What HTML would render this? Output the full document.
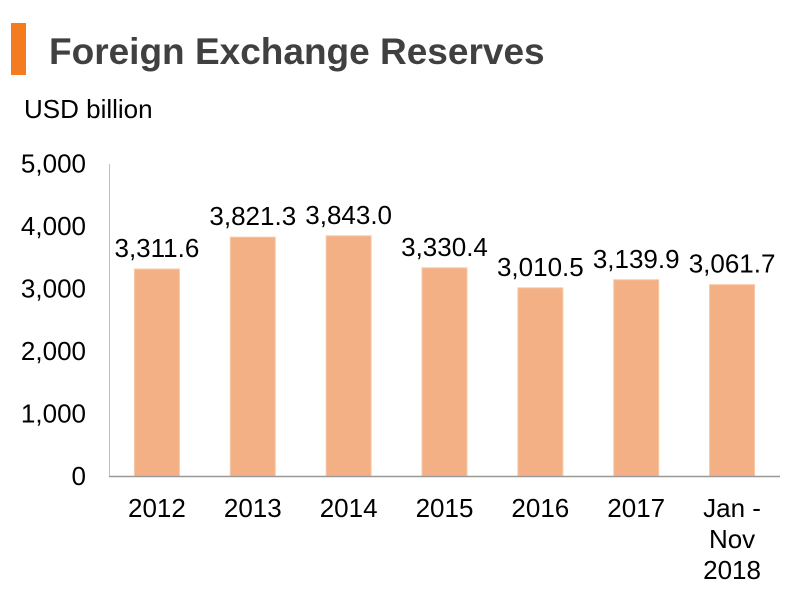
<!DOCTYPE html>
<html>
<head>
<meta charset="utf-8">
<style>
  html,body{margin:0;padding:0;background:#fff;}
  body{width:800px;height:606px;overflow:hidden;font-family:"Liberation Sans",Arial,sans-serif;}
</style>
</head>
<body>
<svg width="800" height="606" viewBox="0 0 800 606" xmlns="http://www.w3.org/2000/svg">
  <rect x="11" y="23" width="15" height="52" fill="#f47b20"/>
  <text x="49" y="64" font-size="37" font-weight="bold" fill="#404040" font-family="Liberation Sans, Arial, sans-serif">Foreign Exchange Reserves</text>
  <text x="24" y="118" font-size="26" fill="#000" font-family="Liberation Sans, Arial, sans-serif">USD billion</text>
  <g id="ticks"></g>
  <g id="bars"></g>
  <g id="labels"></g>
  <g id="cats"></g>
  <line x1="109.5" y1="164" x2="109.5" y2="476" stroke="#bfbfbf" stroke-width="1"/>
  <line x1="109" y1="476.5" x2="780" y2="476.5" stroke="#999" stroke-width="1.5"/>
</svg>
<script>
const categories = [["2012"],["2013"],["2014"],["2015"],["2016"],["2017"],["Jan -","Nov","2018"]];
const values = [3311.6, 3821.3, 3843.0, 3330.4, 3010.5, 3139.9, 3061.7];
const valueLabels = ["3,311.6","3,821.3","3,843.0","3,330.4","3,010.5","3,139.9","3,061.7"];
const tickValues = [0, 1000, 2000, 3000, 4000, 5000];
const tickLabels = ["0","1,000","2,000","3,000","4,000","5,000"];

const NS = "http://www.w3.org/2000/svg";
const plotLeft = 109, plotRight = 780, baseY = 476, topY = 163.5, yMax = 5000;
const band = (plotRight - plotLeft) / categories.length;
const barW = 45;
function y(v){ return baseY - (v / yMax) * (baseY - topY); }
function xc(i){ return plotLeft + band * (i + 0.5); }
function mk(tag, attrs, parent){
  const el = document.createElementNS(NS, tag);
  for (const k in attrs) el.setAttribute(k, attrs[k]);
  parent.appendChild(el);
  return el;
}
const font = "Liberation Sans, Arial, sans-serif";
const gT = document.getElementById("ticks");
tickValues.forEach((t, i) => {
  const el = mk("text", {x: 86, y: y(t) + 9, "font-size": 26, "text-anchor": "end", fill: "#000", "font-family": font}, gT);
  
  
  el.textContent = tickLabels[i];
});
const gB = document.getElementById("bars");
const gL = document.getElementById("labels");
const gC = document.getElementById("cats");
values.forEach((v, i) => {
  const r = mk("rect", {x: xc(i) - barW/2, y: y(v), width: barW, height: baseY - y(v), fill: "#f3b084", stroke: "#f8c9a8", "stroke-width": 1}, gB);
  
  
  const t = mk("text", {x: xc(i), y: y(v) - 12, "font-size": 26, "text-anchor": "middle", fill: "#000", "font-family": font}, gL);
  
  
  t.textContent = valueLabels[i];
  categories[i].forEach((line, j) => {
    const c = mk("text", {x: xc(i), y: 517 + j * 31, "font-size": 26, "text-anchor": "middle", fill: "#000", "font-family": font}, gC);
    
    
    c.textContent = line;
  });
});
</script>
</body>
</html>
